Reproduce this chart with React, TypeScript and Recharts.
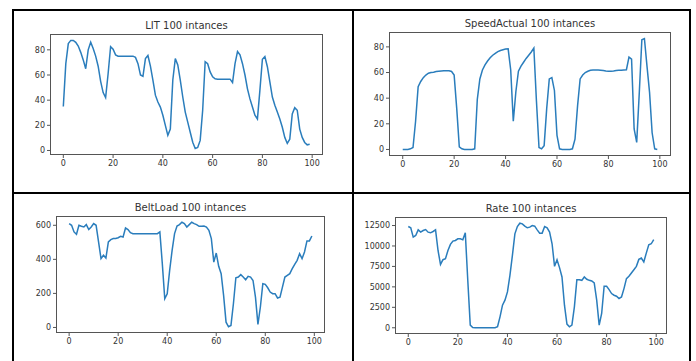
import React from 'react'
import { LineChart, Line, XAxis, YAxis } from 'recharts'

// values, index 0..99
const litValues = [
  35, 69, 85, 87.5, 87.5, 86, 83, 78, 72, 65,
  80, 86, 81, 75, 67, 55, 46, 42, 61, 82.5,
  80.5, 76, 75, 75, 75, 75, 75, 75, 75, 74,
  69, 60, 59, 73, 75.5, 67, 56, 44, 38.5, 34.5,
  28, 20, 12, 17, 56, 73, 68, 56, 42.5, 30.5,
  22.5, 14.5, 6.5, 1.5, 2.4, 8, 32, 70.6, 69, 62.5,
  58.6, 57, 56.7, 56.7, 56.7, 56.7, 56.7, 56.7, 54, 69,
  78.6, 76, 69, 60, 49, 41, 34.5, 28, 25, 48,
  72.5, 74.6, 66.6, 54.6, 42.5, 36, 30.5, 25, 18.5, 10.4,
  5.6, 9, 29, 34, 32, 17, 10.4, 6.4, 4.5, 5,
]

const speedValues = [
  0, 0, 0, 0.5, 1.5, 22, 49, 53, 56, 58,
  59.5, 60, 60.3, 60.8, 61, 61.2, 61.3, 61.4, 61.3, 60.8,
  58, 32, 2, 0.5, 0, 0, 0, 0, 0.5, 39,
  55, 62, 66, 69, 71.5, 73.5, 75, 76.3, 77.2, 77.8,
  78.3, 78.5, 62, 22, 45, 61, 65, 68, 71, 73.5,
  76, 79, 38, 1.5, 0.5, 3, 32, 55, 56, 46,
  11, 0.5, 0, 0, 0, 0, 0.5, 8, 34, 55,
  58, 60, 61, 61.7, 62, 62, 62, 61.8, 61.5, 61.2,
  61, 61, 61.2, 61.5, 61.7, 61.8, 62, 62.2, 72, 70.5,
  16, 5.5, 44, 85.5, 86.5, 65, 44.5, 13, 0.5, 0,
]

const beltValues = [
  610, 600, 561, 547, 600, 594, 590, 604, 575, 590,
  610, 600, 502, 404, 424, 408, 502, 516, 522, 522,
  527, 535, 531, 584, 575, 557, 551, 551, 551, 551,
  551, 551, 551, 551, 551, 551, 551, 561, 375, 169,
  198, 335, 453, 551, 596, 604, 618, 610, 590, 604,
  618, 610, 604, 594, 594, 596, 590, 571, 522, 384,
  437, 359, 316, 188, 31, 4, 12, 139, 292, 296,
  310, 296, 280, 300, 296, 276, 178, 18, 120, 257,
  253, 233, 208, 198, 198, 173, 178, 237, 296, 306,
  316, 345, 371, 394, 433, 404, 443, 508, 508, 537,
]

const rateValues = [
  12380, 12220, 11080, 11280, 11970, 11690, 11890, 12010, 11690, 11610,
  11770, 11970, 9450, 7750, 8320, 8440, 9450, 10190, 10590, 10670,
  10880, 10880, 10750, 11610, 5800, 330, 40, 0, 0, 0,
  0, 0, 0, 0, 0, 0, 120, 1340, 2760, 3370,
  4380, 6410, 8850, 11480, 12380, 12780, 12700, 12420, 12220, 12300,
  12500, 12420, 11970, 11570, 11570, 12380, 12220, 11690, 10270, 7510,
  8320, 7350, 6210, 2760, 450, 120, 330, 2560, 5880, 5880,
  5800, 6210, 5930, 5800, 5720, 5480, 3370, 330, 1750, 5070,
  5070, 4670, 4180, 3980, 3860, 3570, 3770, 4790, 6010, 6290,
  6700, 7100, 7510, 8360, 8520, 8040, 9130, 10150, 10270, 10790,
]

const xTicks = [0, 20, 40, 60, 80, 100]
const litTicks = [0, 20, 40, 60, 80]
const speedTicks = [0, 20, 40, 60, 80]
const beltTicks = [0, 200, 400, 600]
const rateTicks = [0, 2500, 5000, 7500, 10000, 12500]

const FONT = '"DejaVu Sans", sans-serif'
const LINE = '#2a7dbc'
const SPINE = '#555'
const tickStyle = { fontSize: 8, fill: '#333', fontFamily: FONT }

// matplotlib style 5% margins
function pad(min: number, max: number): [number, number] {
  const p = (max - min) * 0.05
  return [min - p, max + p]
}

interface PanelProps {
  title: string
  values: number[]
  yTicks: number[]
  plot: { x: number; y: number; w: number; h: number }
  yw: number
}

function Panel({ title, values, yTicks, plot, yw }: PanelProps) {
  const data = values.map((v, i) => ({ i, v }))
  const xDom = pad(0, values.length - 1)
  const yDom = pad(Math.min(...values), Math.max(...values))
  const top = 5
  const right = 5
  const xh = 20

  return (
    <>
      <div
        style={{
          position: 'absolute',
          left: plot.x,
          top: plot.y - 15,
          width: plot.w,
          textAlign: 'center',
          fontSize: 10,
          lineHeight: '12px',
          color: '#333',
          fontFamily: FONT,
        }}
      >
        {title}
      </div>
      <div style={{ position: 'absolute', left: plot.x - yw, top: plot.y - top }}>
        <LineChart
          width={yw + plot.w + right}
          height={top + plot.h + xh}
          data={data}
          margin={{ top, right, bottom: 0, left: 0 }}
          style={{ fontFamily: FONT }}
        >
          <XAxis
            dataKey="i"
            type="number"
            domain={xDom}
            ticks={xTicks}
            allowDataOverflow
            height={xh}
            tick={tickStyle}
            tickSize={4}
            tickMargin={2}
            axisLine={false}
            stroke={SPINE}
          />
          <YAxis
            type="number"
            domain={yDom}
            ticks={yTicks}
            allowDataOverflow
            width={yw}
            tick={tickStyle}
            tickSize={4}
            tickMargin={2}
            axisLine={false}
            stroke={SPINE}
          />
          <Line
            type="linear"
            dataKey="v"
            stroke={LINE}
            strokeWidth={1.5}
            dot={false}
            isAnimationActive={false}
          />
        </LineChart>
      </div>
      {/* four-sided spine frame like matplotlib */}
      <div
        style={{
          position: 'absolute',
          left: plot.x - 1,
          top: plot.y - 1,
          width: plot.w + 2,
          height: plot.h + 2,
          boxSizing: 'border-box',
          border: `1px solid ${SPINE}`,
          pointerEvents: 'none',
        }}
      />
    </>
  )
}

const border = (left: number, top: number, width: number, height: number) => (
  <div style={{ position: 'absolute', left, top, width, height, background: '#000' }} />
)

export default function App() {
  return (
    <div style={{ position: 'absolute', left: 0, top: 0, width: 696, height: 361, background: '#fff', overflow: 'hidden' }}>
      {border(12, 9, 679, 2)}
      {border(12, 9, 2, 352)}
      {border(689, 9, 2, 352)}
      {border(352, 9, 2, 352)}
      {border(12, 192, 679, 2)}

      <Panel title="LIT 100 intances" values={litValues} yTicks={litTicks} plot={{ x: 51, y: 35, w: 271, h: 119 }} yw={45} />
      <Panel title="SpeedActual 100 intances" values={speedValues} yTicks={speedTicks} plot={{ x: 390, y: 33, w: 280, h: 122 }} yw={45} />
      <Panel title="BeltLoad 100 intances" values={beltValues} yTicks={beltTicks} plot={{ x: 57, y: 217, w: 267, h: 115 }} yw={45} />
      <Panel title="Rate 100 intances" values={rateValues} yTicks={rateTicks} plot={{ x: 396, y: 218, w: 270, h: 115 }} yw={45} />
    </div>
  )
}
